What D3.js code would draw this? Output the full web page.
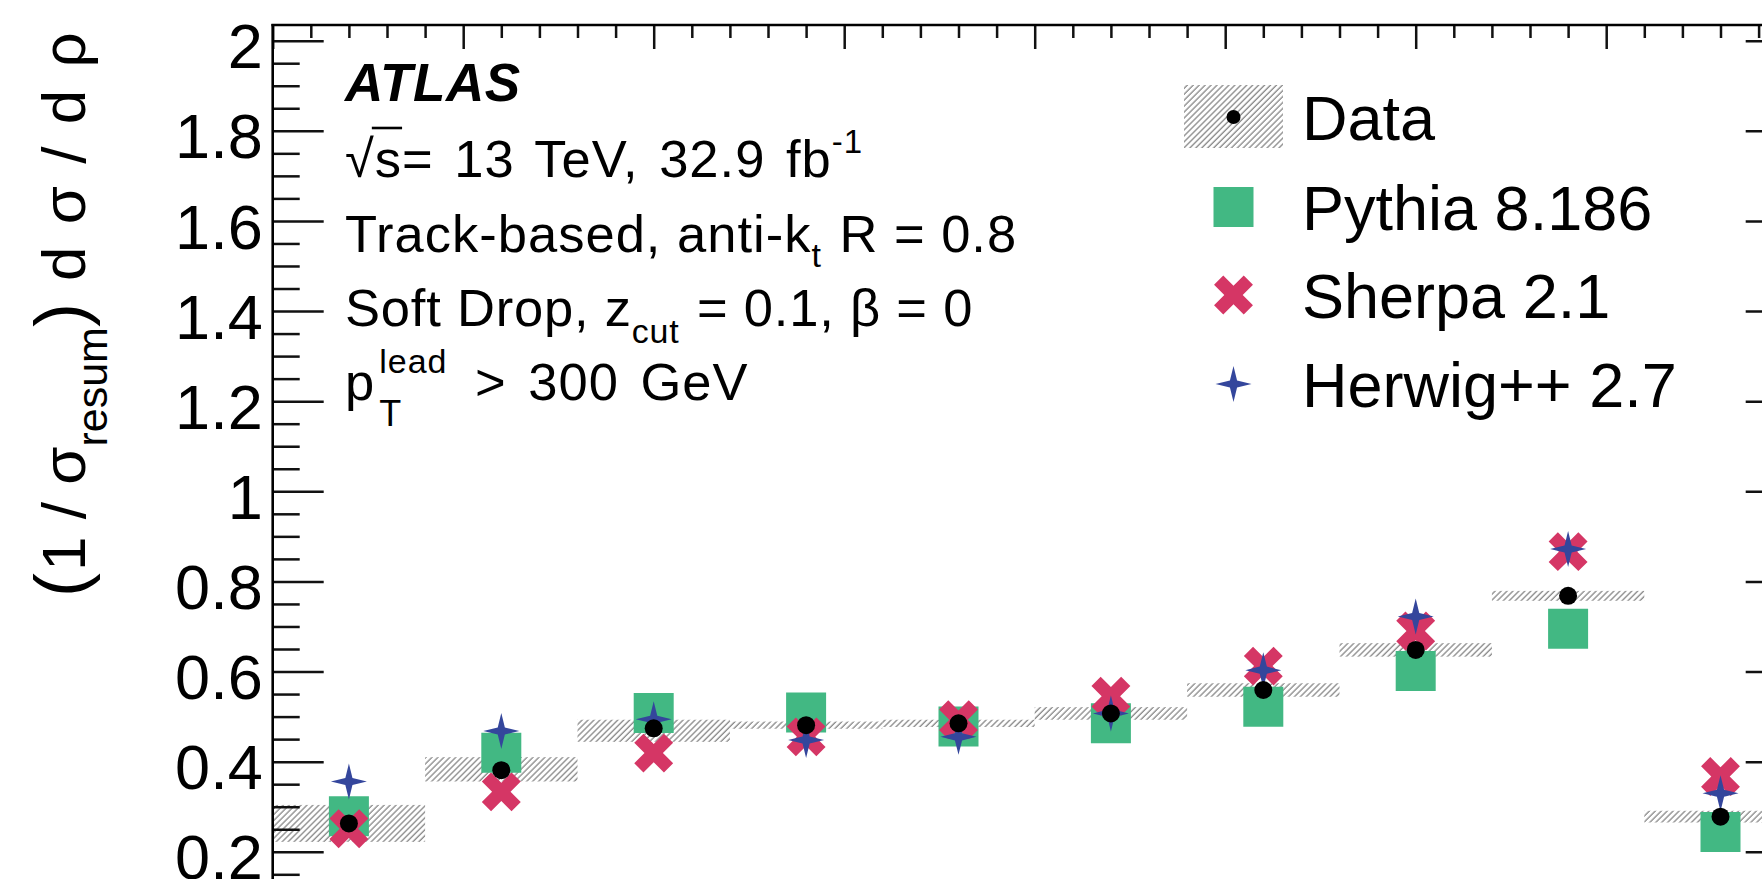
<!DOCTYPE html>
<html>
<head>
<meta charset="utf-8">
<script src="https://cdn.jsdelivr.net/npm/d3@7"></script>
<style>
  html, body { margin: 0; padding: 0; background: #fff; overflow: hidden; }
  svg { display: block; font-family: "Liberation Sans", Arial, Helvetica, sans-serif; }
  svg text { white-space: pre; }
</style>
</head>
<body>
<svg id="chart" width="1762" height="879"></svg>
<script>
// Soft-drop mass spectrum, log10(rho^2) bins of width 0.4
const binLow   = [-4.5, -4.1, -3.7, -3.3, -2.9, -2.5, -2.1, -1.7, -1.3, -0.9];
const binWidth = 0.4;

// Unfolded data with its uncertainty band
const dataVal = [0.263, 0.381, 0.474, 0.481, 0.485, 0.507, 0.559, 0.648, 0.768, 0.278];
const dataLo  = [0.222, 0.356, 0.444, 0.473, 0.477, 0.493, 0.544, 0.633, 0.757, 0.265];
const dataHi  = [0.304, 0.410, 0.493, 0.489, 0.493, 0.521, 0.574, 0.663, 0.779, 0.291];

// Generator predictions
const pythia = [0.279, 0.420, 0.508, 0.509, 0.478, 0.485, 0.522, 0.601, 0.695, 0.244];
const sherpa = [0.251, 0.333, 0.419, 0.455, 0.493, 0.545, 0.612, 0.690, 0.866, 0.367];
const herwig = [0.356, 0.468, 0.494, 0.448, 0.455, 0.507, 0.603, 0.722, 0.872, 0.330];

// Axis ticks
const yMajorTicks = [0.2, 0.4, 0.6, 0.8, 1, 1.2, 1.4, 1.6, 1.8, 2];
const xMajorTicks = [-4.5, -4, -3.5, -3, -2.5, -2, -1.5, -1, -0.5];

const legendLabels = ["Data", "Pythia 8.186", "Sherpa 2.1", "Herwig++ 2.7"];

const colPythia = "#42b883";
const colSherpa = "#d53665";
const colHerwig = "#34469c";

const svg = d3.select("#chart");

const x = d3.scaleLinear().domain([-4.5, -0.5]).range([272.7, 1796.7]);
const y = d3.scaleLinear().domain([0, 2.035]).range([941.9, 24.9]);

// Hatch pattern for the uncertainty band
const defs = svg.append("defs");
const pat = defs.append("pattern")
  .attr("id", "hatch")
  .attr("patternUnits", "userSpaceOnUse")
  .attr("width", 4.2).attr("height", 4.2)
  .attr("patternTransform", "rotate(45)");
pat.append("line")
  .attr("x1", 1).attr("y1", 0).attr("x2", 1).attr("y2", 4.2)
  .attr("stroke", "#8e8e8e").attr("stroke-width", 1.4);

// Custom marker shapes
const crossX = {
  draw(ctx, size) {
    const L = Math.sqrt(size) / 2, a = L * 0.31, c = Math.SQRT1_2;
    const pts = [[-a,-L],[a,-L],[a,-a],[L,-a],[L,a],[a,a],[a,L],[-a,L],[-a,a],[-L,a],[-L,-a],[-a,-a]];
    pts.forEach(([px, py], i) => {
      const xr = (px - py) * c, yr = (px + py) * c;
      if (i) ctx.lineTo(xr, yr); else ctx.moveTo(xr, yr);
    });
    ctx.closePath();
  }
};
const star4 = {
  draw(ctx, size) {
    const R = Math.sqrt(size) / 2, r = R * 0.28;
    for (let i = 0; i < 8; i++) {
      const ang = -Math.PI / 2 + i * Math.PI / 4;
      const rad = i % 2 ? r : R;
      const px = rad * Math.cos(ang), py = rad * Math.sin(ang);
      if (i) ctx.lineTo(px, py); else ctx.moveTo(px, py);
    }
    ctx.closePath();
  }
};

const symSquare = d3.symbol().type(d3.symbolSquare).size(40 * 40);
const symCross  = d3.symbol().type(crossX).size(42 * 42);
const symStar   = d3.symbol().type(star4).size(36 * 36);
const symDot    = d3.symbol().type(d3.symbolCircle).size(Math.PI * 9 * 9);
const symDotLeg = d3.symbol().type(d3.symbolCircle).size(Math.PI * 7 * 7);

const centers = binLow.map(b => b + binWidth / 2);

// Uncertainty bands
svg.append("g").selectAll("rect")
  .data(binLow)
  .join("rect")
  .attr("x", d => x(d))
  .attr("width", d => x(d + binWidth) - x(d))
  .attr("y", (d, i) => y(dataHi[i]))
  .attr("height", (d, i) => y(dataLo[i]) - y(dataHi[i]))
  .attr("fill", "url(#hatch)");

// Predictions
svg.append("g").selectAll("path")
  .data(pythia)
  .join("path")
  .attr("transform", (d, i) => `translate(${x(centers[i])},${y(d)})`)
  .attr("d", symSquare())
  .attr("fill", colPythia);

svg.append("g").selectAll("path")
  .data(sherpa)
  .join("path")
  .attr("transform", (d, i) => `translate(${x(centers[i])},${y(d)})`)
  .attr("d", symCross())
  .attr("fill", colSherpa);

svg.append("g").selectAll("path")
  .data(herwig)
  .join("path")
  .attr("transform", (d, i) => `translate(${x(centers[i])},${y(d)})`)
  .attr("d", symStar())
  .attr("fill", colHerwig);

// Data points
svg.append("g").selectAll("path")
  .data(dataVal)
  .join("path")
  .attr("transform", (d, i) => `translate(${x(centers[i])},${y(d)})`)
  .attr("d", symDot())
  .attr("fill", "#000");

// Axes
const tickStroke = 2.5;
function styleAxis(g) {
  g.select(".domain").remove();
  g.selectAll(".tick line").attr("stroke", "#111").attr("stroke-width", tickStroke);
}
const yMinor = d3.range(1, 41).filter(i => i % 4 !== 0).map(i => i * 0.05);
const xMinor = d3.range(0, 41).filter(i => i % 5 !== 0).map(i => -4.5 + i * 0.1);

// left axis: inward ticks, labels outside
svg.append("g")
  .attr("transform", "translate(272.7,0)")
  .call(d3.axisLeft(y).tickValues(yMinor).tickSize(-27).tickFormat(""))
  .call(styleAxis);
const leftMajor = svg.append("g")
  .attr("transform", "translate(272.7,0)")
  .call(d3.axisLeft(y).tickValues(yMajorTicks).tickSizeInner(-51).tickSizeOuter(0)
        .tickPadding(10).tickFormat(d3.format("~g")))
  .call(styleAxis);
leftMajor.selectAll(".tick text")
  .attr("font-size", 63)
  .attr("font-family", "Liberation Sans, Arial, sans-serif")
  .attr("fill", "#000")
  .attr("dy", "0.43em");

// right axis
svg.append("g")
  .attr("transform", "translate(1796.7,0)")
  .call(d3.axisLeft(y).tickValues(yMinor).tickSize(27).tickFormat(""))
  .call(styleAxis);
svg.append("g")
  .attr("transform", "translate(1796.7,0)")
  .call(d3.axisLeft(y).tickValues(yMajorTicks).tickSize(51).tickFormat(""))
  .call(styleAxis);

// top axis
svg.append("g")
  .attr("transform", "translate(0,25)")
  .call(d3.axisBottom(x).tickValues(xMinor).tickSize(13).tickFormat(""))
  .call(styleAxis);
svg.append("g")
  .attr("transform", "translate(0,25)")
  .call(d3.axisBottom(x).tickValues(xMajorTicks).tickSize(24).tickFormat(""))
  .call(styleAxis);

// frame
svg.append("line").attr("x1", 272.7).attr("x2", 272.7).attr("y1", 24).attr("y2", 900)
  .attr("stroke", "#000").attr("stroke-width", 2.6);
svg.append("line").attr("x1", 271.4).attr("x2", 1800).attr("y1", 25).attr("y2", 25)
  .attr("stroke", "#000").attr("stroke-width", 2.6);

// Text runs with sub/superscripts
function runs(g, x0, y0, parts, ls) {
  let cx = x0, held = 0;
  const pos = [];
  parts.forEach(p => {
    const t = g.append("text")
      .attr("x", cx)
      .attr("y", y0 + (p.dy || 0))
      .attr("font-size", p.size)
      .attr("fill", "#000")
      .text(p.t);
    if (ls) t.attr("letter-spacing", ls);
    if (p.weight) t.attr("font-weight", p.weight);
    if (p.italic) t.attr("font-style", "italic");
    if (p.ws) t.attr("word-spacing", p.ws);
    const w = t.node().getComputedTextLength();
    pos.push({ x: cx, w });
    if (p.hold) {
      held = w;
    } else {
      cx += Math.max(w, held) + (p.gap || 0);
      held = 0;
    }
  });
  return pos;
}

const info = svg.append("g");
const tx = 345, fs = 52.5, ls = 1.0;
runs(info, tx, 101, [{ t: "ATLAS", size: 53, weight: "bold", italic: true }], 0.6);

const l2 = runs(info, tx, 177, [
  { t: "\u221A", size: fs },
  { t: "s", size: fs },
  { t: "= 13 TeV, 32.9 fb", size: fs, ws: 5 },
  { t: "-1", size: 33, dy: -24 }
], ls);
info.append("line")
  .attr("x1", l2[0].x + l2[0].w - 3).attr("x2", l2[1].x + l2[1].w)
  .attr("y1", 128).attr("y2", 128)
  .attr("stroke", "#000").attr("stroke-width", 2.6);

runs(info, tx, 252, [
  { t: "Track-based, anti-k", size: fs },
  { t: "t", size: 34, dy: 15, gap: 2 },
  { t: " R = 0.8", size: fs }
], ls);
runs(info, tx, 326, [
  { t: "Soft Drop, z", size: fs },
  { t: "cut", size: 34, dy: 17, gap: 2 },
  { t: " = 0.1, \u03B2 = 0", size: fs }
], 0.8);
runs(info, tx, 400, [
  { t: "p", size: fs, gap: 4 },
  { t: "T", size: 36, dy: 26, hold: true },
  { t: "lead", size: 34, dy: -27, gap: 6 },
  { t: " > 300 GeV", size: fs, ws: 6 }
], ls);

// Legend
const leg = svg.append("g");
const legX = 1233.5, legText = 1302, legFs = 63;
const legRows = [117, 207, 295, 384];
leg.append("rect")
  .attr("x", 1184).attr("y", 85).attr("width", 99).attr("height", 63)
  .attr("fill", "url(#hatch)");
leg.append("path").attr("transform", `translate(${legX},${legRows[0]})`)
  .attr("d", symDotLeg()).attr("fill", "#000");
leg.append("path").attr("transform", `translate(${legX},${legRows[1]})`)
  .attr("d", symSquare()).attr("fill", colPythia);
leg.append("path").attr("transform", `translate(${legX},${legRows[2]})`)
  .attr("d", symCross()).attr("fill", colSherpa);
leg.append("path").attr("transform", `translate(${legX},${legRows[3]})`)
  .attr("d", symStar()).attr("fill", colHerwig);
leg.selectAll("text")
  .data(legendLabels)
  .join("text")
  .attr("x", legText)
  .attr("y", (d, i) => legRows[i] + 22.5)
  .attr("font-size", legFs)
  .attr("fill", "#000")
  .text(d => d);

// Y-axis title
const ylab = svg.append("g").attr("transform", "translate(85,597) rotate(-90)");
runs(ylab, 0, 0, [
  { t: "(", size: 72, gap: 2 },
  { t: "1 / \u03C3", size: 62 },
  { t: "resum", size: 43, dy: 22 },
  { t: ")", size: 72 },
  { t: " d \u03C3 / d \u03C1", size: 62, ws: 5 }
]);
</script>
</body>
</html>
